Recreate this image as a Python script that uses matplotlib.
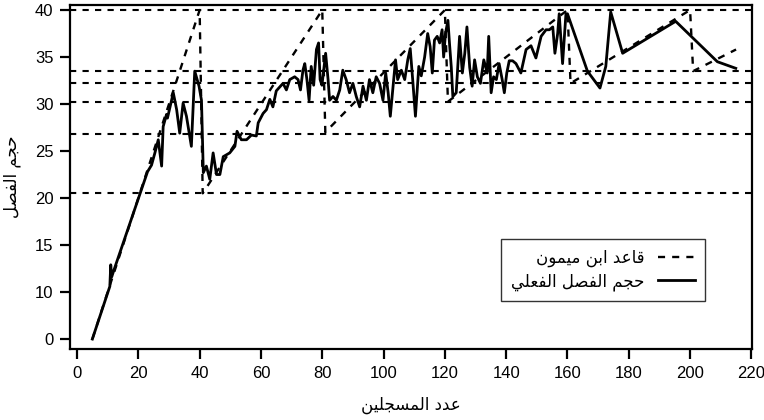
import matplotlib
matplotlib.use('Agg')
import matplotlib.pyplot as plt
from matplotlib.transforms import ScaledTranslation

# Arabic presentation forms: isolated, final, initial, medial
FORMS = {
    'ا': ('\uFE8D', '\uFE8E', None, None),
    'ب': ('\uFE8F', '\uFE90', '\uFE91', '\uFE92'),
    'ج': ('\uFE9D', '\uFE9E', '\uFE9F', '\uFEA0'),
    'ح': ('\uFEA1', '\uFEA2', '\uFEA3', '\uFEA4'),
    'د': ('\uFEA9', '\uFEAA', None, None),
    'س': ('\uFEB1', '\uFEB2', '\uFEB3', '\uFEB4'),
    'ص': ('\uFEB9', '\uFEBA', '\uFEBB', '\uFEBC'),
    'ع': ('\uFEC9', '\uFECA', '\uFECB', '\uFECC'),
    'ف': ('\uFED1', '\uFED2', '\uFED3', '\uFED4'),
    'ق': ('\uFED5', '\uFED6', '\uFED7', '\uFED8'),
    'ل': ('\uFEDD', '\uFEDE', '\uFEDF', '\uFEE0'),
    'م': ('\uFEE1', '\uFEE2', '\uFEE3', '\uFEE4'),
    'ن': ('\uFEE5', '\uFEE6', '\uFEE7', '\uFEE8'),
    'و': ('\uFEED', '\uFEEE', None, None),
    'ي': ('\uFEF1', '\uFEF2', '\uFEF3', '\uFEF4'),
}


def ar(text):
    out = []
    for i, ch in enumerate(text):
        if ch not in FORMS:
            out.append(ch)
            continue
        prev = text[i - 1] if i > 0 else ''
        nxt = text[i + 1] if i + 1 < len(text) else ''
        join_prev = prev in FORMS and FORMS[prev][2] is not None
        join_next = nxt in FORMS and FORMS[ch][2] is not None
        iso, fin, ini, med = FORMS[ch]
        if join_prev and join_next:
            out.append(med)
        elif join_prev:
            out.append(fin)
        elif join_next:
            out.append(ini)
        else:
            out.append(iso)
    return ''.join(out)[::-1]


# Actual class size (solid line)
enroll = [5, 10.7, 11, 11.3, 12, 23, 24.3, 25.4, 26.5, 27.6, 28.1, 29.2, 29.5,
          31.4, 32.5, 33.5, 34.6, 35.7, 37.3, 38.4, 39.8, 40.6, 41.2, 42.2,
          43.3, 44.4, 45.5, 46.6, 47.7, 49.8, 51.5, 52.2, 53.6, 55.3, 56.9,
          58.5, 59.1, 60.7, 61.8, 62.9, 63.9, 65, 66.1, 67.2, 68.3, 69.4, 71,
          72.1, 72.9, 73.7, 74.3, 75, 75.7, 76.4, 77.2, 78.1, 78.8, 79.3, 79.9,
          80.6, 81.1, 81.9, 82.4, 83.5, 84.6, 85.7, 86.7, 87.8, 88.9, 90, 91.1,
          92.2, 93.3, 94.4, 95.4, 96.5, 97.6, 98.7, 99.8, 100.7, 101.5, 102.2,
          103, 103.9, 104.6, 105.8, 106.9, 107.9, 108.7, 109.5, 110.4, 111.5,
          112.3, 113.4, 114.4, 115.2, 115.9, 116.6, 117.5, 118.3, 119.1, 119.6,
          120.2, 121, 121.5, 122.1, 122.6, 123.7, 124.8, 125.7, 126.5, 127.2,
          128.1, 128.9, 129.7, 130.6, 131.6, 132.7, 133.8, 134.3, 135.1, 135.9,
          136.8, 137.7, 138.7, 139.4, 140.2, 141, 142.1, 143.2, 144.8, 146.5,
          148.1, 149.7, 151.4, 153, 154.1, 155.2, 155.9, 156.8, 157.3, 158.4,
          159.5, 160, 166.5, 170.6, 172.5, 174.1, 178, 195.3, 208.9, 214.9]
class_size = [5, 10.6, 12.9, 11.6, 12.3, 22.8, 23.5, 24.8, 26.2, 23.4, 27.6, 28.9,
              28.5, 31.2, 29.4, 26.9, 30.1, 28.7, 25.5, 33.5, 31.9, 30.4, 22.7,
              23.4, 22, 24.8, 22.5, 22.5, 24.4, 24.8, 25.5, 27.1, 26.2, 26.2,
              26.7, 26.6, 28, 29, 29.4, 30.5, 29.7, 31.4, 31.8, 32.2, 31.5,
              32.6, 32.9, 32.6, 31.5, 33.6, 34.3, 32.6, 30.4, 34, 32, 35.8,
              36.5, 32.6, 32, 34, 35.4, 32.6, 30.4, 30.8, 30.4, 31.5, 33.6,
              32.6, 31.2, 32.2, 30.8, 29.7, 31.9, 30.4, 32.6, 31.2, 32.9, 32.2,
              30.4, 33.3, 31.2, 28.7, 31.5, 34.7, 32.6, 33.6, 32.6, 34.7, 35.9,
              32.6, 28.7, 34, 33, 35, 37.5, 36.1, 33.3, 36.8, 37.2, 36.5, 37.9,
              35, 37.5, 38.9, 36.5, 33.9, 30.8, 31.2, 37.2, 33.3, 35.4, 38.2,
              33.9, 31.9, 34.7, 32.9, 32.2, 34.7, 33.3, 37.2, 31.2, 32.9, 32.6,
              34.3, 32.6, 31.2, 33.3, 34.6, 34.6, 34.3, 33.3, 35.8, 36.2, 34.9,
              37.2, 37.9, 37.9, 38.2, 35.4, 37.5, 39.6, 34.3, 39.6, 39.6, 33.5,
              31.7, 34, 39.8, 35.4, 38.8, 34.5, 33.8]

# Maimonides' rule (dashed line)
rule_x = [5, 40, 41, 80, 81, 120, 121, 160, 161, 200, 201, 215]
rule_y = [5, 40, 20.5, 40, 27, 40, 30.25, 40, 32.2, 40, 33.5, 35.8]

# Horizontal reference levels
levels = [20.5, 26.8, 30.25, 32.2, 33.5, 40]

x_ticks = [0, 20, 40, 60, 80, 100, 120, 140, 160, 180, 200, 220]
y_ticks = [5, 10, 15, 20, 25, 30, 35, 40]
y_tick_labels = ['0', '10', '15', '20', '25', '30', '35', '40']

num_font = ['Liberation Sans', 'DejaVu Sans']

fig = plt.figure(figsize=(7.64, 4.2), dpi=100)
ax = fig.add_axes([0.0916, 0.169, 0.8927, 0.819])

dash = (0, (3, 3))
for lv in levels:
    ax.axhline(lv, color='black', lw=1.5, linestyle=dash, zorder=1)

ax.plot(rule_x, rule_y, color='black', lw=1.7, linestyle=dash, zorder=2,
        label=ar('قاعد ابن ميمون'))
ax.plot(enroll, class_size, color='black', lw=2.0, zorder=3,
        label=ar('حجم الفصل الفعلي'))

ax.set_xlim(-2.3, 220.2)
ax.set_ylim(3.94, 40.53)
ax.set_xticks(x_ticks)
ax.set_yticks(y_ticks)
ax.set_yticklabels(y_tick_labels)
for lab in ax.get_xticklabels() + ax.get_yticklabels():
    lab.set_family(num_font)
    lab.set_fontsize(12)

# keep the last x label inside the figure, as in the reference
last = ax.get_xticklabels()[-1]
last.set_transform(last.get_transform() + ScaledTranslation(-7 / 100, 0, fig.dpi_scale_trans))

for sp in ax.spines.values():
    sp.set_linewidth(1.6)
ax.tick_params(direction='out', length=7, width=1.6, pad=5)

ax.set_xlabel(ar('عدد المسجلين'), family='DejaVu Sans', fontsize=12, labelpad=11)
ax.set_ylabel(ar('حجم الفصل'), family='DejaVu Sans', fontsize=12, labelpad=10)

leg = ax.legend(loc='upper right', bbox_to_anchor=(0.943, 0.345),
                markerfirst=False, fancybox=False, frameon=True,
                edgecolor='black', handlelength=2.2, borderpad=0.6,
                labelspacing=0.3, prop={'family': 'DejaVu Sans', 'size': 12})
leg.get_frame().set_linewidth(1.0)

fig.savefig('out.png', dpi=100)
